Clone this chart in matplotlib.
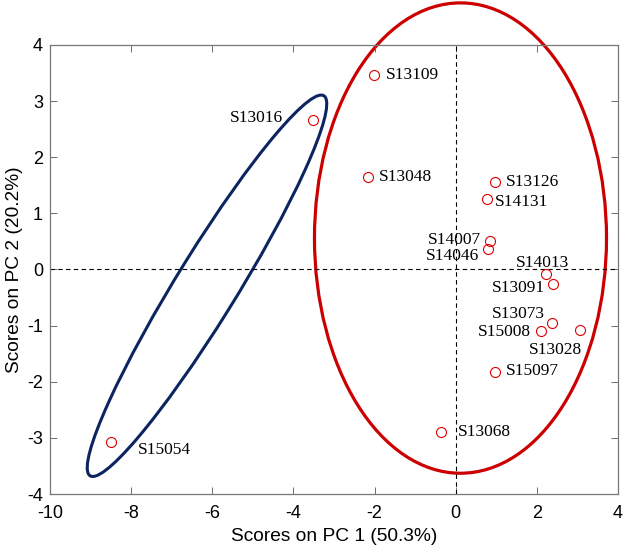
import matplotlib.pyplot as plt
from matplotlib.patches import Ellipse

plt.rcParams["axes.unicode_minus"] = False

# ------------------------------- sample scores ------------------------------ #
names = ["S13109", "S13016", "S13048", "S13126", "S14131", "S14007", "S14046",
         "S14013", "S13091", "S13073", "S15008", "S13028", "S15097", "S13068",
         "S15054"]
pc1 = [-2.02, -3.52, -2.17, 0.96, 0.78, 0.84, 0.81,
       2.24, 2.41, 2.37, 2.11, 3.06, 0.96, -0.35, -8.50]
pc2 = [3.47, 2.67, 1.65, 1.55, 1.26, 0.51, 0.36,
       -0.08, -0.26, -0.95, -1.09, -1.07, -1.83, -2.90, -3.08]

# label offsets in pixels (dx, dy, horizontal alignment)
label_pos = {
    "S13109": (12, 0, "left"),
    "S13016": (-30, 2, "right"),
    "S13048": (11, 0, "left"),
    "S13126": (11, 0, "left"),
    "S14131": (8, -3, "left"),
    "S14007": (-9, 1, "right"),
    "S14046": (-9, -7, "right"),
    "S14013": (-4, 11, "center"),
    "S13091": (-8, -4, "right"),
    "S13073": (-7, 9, "right"),
    "S15008": (-10, -1, "right"),
    "S13028": (2, -20, "right"),
    "S15097": (11, 1, "left"),
    "S13068": (16, 0, "left"),
    "S15054": (27, -8, "left"),
}

fig = plt.figure(figsize=(6.26, 5.54), dpi=100)
ax = fig.add_axes([0.0799, 0.1083, 0.9071, 0.8105])

# reference lines through the origin
ax.axhline(0, color="black", linestyle="--", linewidth=0.8, dashes=(4, 3))
ax.axvline(0, color="black", linestyle="--", linewidth=0.8, dashes=(4, 3))

# group ellipses (drawn by hand in the original)
red_ell = Ellipse((0.12, 0.56), 7.2, 8.38, angle=0, fill=False,
                  edgecolor="#cc0000", linewidth=2.3, clip_on=False)
blue_ell = Ellipse((-6.13, -0.29), 8.9, 1.36, angle=49.2, fill=False,
                   edgecolor="#0c2560", linewidth=2.2, clip_on=False)
ax.add_patch(red_ell)
ax.add_patch(blue_ell)

ax.plot(pc1, pc2, linestyle="none", marker="o", markersize=7.2,
        markerfacecolor="none", markeredgecolor="#dd0000", markeredgewidth=0.8)

for n, x, y in zip(names, pc1, pc2):
    dx, dy, ha = label_pos[n]
    ax.annotate(n, (x, y), xytext=(dx, dy), textcoords="offset pixels",
                ha=ha, va="center", fontsize=12.5, family="Liberation Serif")

ax.set_xlim(-10, 4)
ax.set_ylim(-4, 4)
ax.set_xticks(range(-10, 5, 2))
ax.set_yticks(range(-4, 5))
ax.tick_params(direction="in", top=True, right=True, length=5,
               width=0.6, color="#555555", labelsize=13)
ax.tick_params(axis="x", pad=8)
ax.tick_params(axis="y", pad=5)
for sp in ax.spines.values():
    sp.set_color("#777777")
    sp.set_linewidth(0.9)
for lab in ax.get_xticklabels() + ax.get_yticklabels():
    lab.set_family("Liberation Sans")

ax.set_xlabel("Scores on PC 1 (50.3%)", fontsize=13.8, family="Liberation Sans",
              labelpad=4)
ax.set_ylabel("Scores on PC 2 (20.2%)", fontsize=13.8, family="Liberation Sans",
              labelpad=3)

fig.savefig("out.png", dpi=100)
